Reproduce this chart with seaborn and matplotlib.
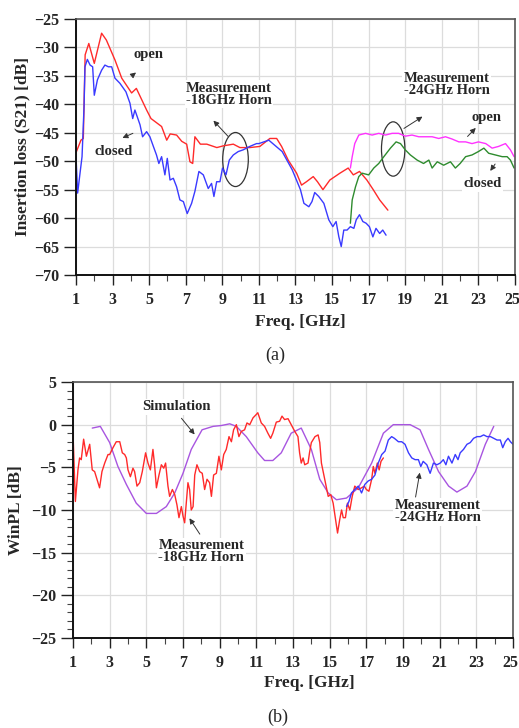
import matplotlib
matplotlib.use("Agg")
import matplotlib.pyplot as plt
import matplotlib.transforms as mtransforms
import seaborn as sns
import pandas as pd
from matplotlib.patches import Ellipse

# ---------------- data: (a) insertion loss ----------------
open18_x = [1.0, 1.27, 1.4, 1.5, 1.7, 2.0, 2.4, 2.66, 3.13, 3.5, 4.04, 4.3, 4.86, 5.1, 5.68, 5.96,
            6.15, 6.5, 6.78, 7.05, 7.23, 7.38, 7.5, 7.8, 8.15, 8.7, 9.05, 9.6, 9.96, 10.5, 11.05,
            11.6, 11.97, 12.24, 12.6, 13.06, 13.33, 13.6, 13.97, 14.2, 14.5, 14.88, 15.43, 15.88,
            16.16, 16.5, 16.9, 17.25, 17.6, 18.05]
open18_y = [-48.5, -46.3, -46.0, -31.3, -29.3, -32.8, -27.5, -28.7, -32.2, -35.4, -38.0, -37.2, -41.0,
            -42.5, -43.9, -46.3, -45.2, -45.4, -46.5, -47.0, -50.1, -50.4, -45.7, -47.0, -47.0, -47.6,
            -47.3, -47.0, -47.6, -47.6, -47.4, -46.0, -46.0, -47.4, -49.8, -52.1, -54.2, -53.6, -52.7,
            -53.6, -55.0, -53.3, -52.1, -51.2, -52.4, -51.8, -53.3, -55.0, -56.8, -58.6]

closed18_x = [1.0, 1.09, 1.22, 1.33, 1.44, 1.49, 1.62, 1.77, 1.91, 2.0, 2.17, 2.4, 2.58, 2.77, 2.95,
              3.13, 3.4, 3.73, 3.95, 4.1, 4.22, 4.35, 4.5, 4.64, 4.86, 5.04, 5.23, 5.4, 5.53, 5.68,
              5.86, 5.99, 6.14, 6.32, 6.5, 6.68, 6.87, 7.08, 7.32, 7.5, 7.72, 7.96, 8.23, 8.41, 8.54,
              8.69, 8.87, 9.01, 9.2, 9.38, 9.6, 9.87, 10.14, 10.5, 10.87, 11.0, 11.54, 12.27, 12.82,
              13.09, 13.27, 13.46, 13.73, 13.9, 14.05, 14.27, 14.55, 14.82, 15.04, 15.22, 15.37, 15.5,
              15.64, 15.82, 16.0, 16.19, 16.32, 16.5, 16.68, 16.86, 17.04, 17.23, 17.4, 17.6, 17.77,
              17.95]
closed18_y = [-49.2, -55.6, -52.1, -49.2, -40.4, -33.4, -32.1, -33.1, -33.4, -38.4, -35.7, -34.0, -33.1,
              -33.4, -33.4, -35.4, -36.3, -37.8, -39.8, -42.5, -41.0, -42.2, -43.6, -45.7, -44.8, -45.7,
              -47.4, -48.9, -50.4, -49.2, -52.4, -49.5, -53.3, -53.0, -54.5, -56.8, -57.1, -59.2, -57.4,
              -55.3, -51.8, -52.4, -54.8, -53.9, -56.2, -53.6, -53.6, -51.2, -52.4, -49.8, -48.9, -48.3,
              -48.0, -47.4, -46.9, -46.9, -46.3, -48.3, -51.5, -53.6, -55.0, -57.4, -58.0, -57.1, -55.5,
              -56.2, -57.4, -60.3, -61.5, -60.6, -63.3, -65.0, -62.1, -62.1, -61.5, -61.8, -60.3, -59.4,
              -60.6, -60.9, -61.5, -63.3, -61.8, -62.7, -62.1, -63.0]

open24_x = [16.0, 16.1, 16.24, 16.46, 16.83, 17.19, 17.55, 17.92, 18.28, 18.64, 19.0, 19.37, 19.74,
            20.1, 20.47, 20.83, 21.2, 21.56, 21.93, 22.3, 22.65, 23.0, 23.4, 23.75, 24.1, 24.48, 24.75,
            24.95]
open24_y = [-51.2, -49.2, -46.9, -45.4, -45.1, -45.4, -45.1, -45.4, -45.1, -45.1, -45.6, -45.4, -45.7,
            -45.7, -45.7, -46.0, -45.7, -46.1, -46.6, -46.6, -46.9, -46.6, -46.9, -47.7, -47.4, -46.9,
            -48.0, -49.2]

closed24_x = [16.0, 16.1, 16.28, 16.46, 16.64, 17.0, 17.28, 17.55, 17.83, 18.19, 18.5, 18.74, 19.0,
              19.28, 19.65, 20.0, 20.29, 20.47, 20.75, 21.1, 21.47, 21.74, 22.0, 22.3, 22.65, 23.0,
              23.3, 23.56, 23.93, 24.3, 24.57, 24.75, 24.95]
closed24_y = [-60.9, -56.8, -54.5, -52.7, -52.1, -52.4, -51.2, -50.4, -49.2, -47.7, -46.6, -46.9, -48.0,
              -48.9, -49.8, -50.4, -49.8, -51.2, -50.1, -50.7, -50.1, -51.2, -50.4, -49.2, -48.9, -48.3,
              -47.7, -48.6, -48.9, -49.2, -49.2, -49.8, -51.2]

# ---------------- data: (b) WinPL ----------------
meas18_x = [1.0, 1.13, 1.27, 1.36, 1.45, 1.58, 1.73, 1.91, 2.05, 2.18, 2.31, 2.45, 2.58, 2.73, 2.91,
            3.0, 3.18, 3.36, 3.55, 3.69, 3.82, 3.91, 4.0, 4.13, 4.27, 4.36, 4.49, 4.64, 4.78, 4.96,
            5.09, 5.22, 5.36, 5.45, 5.55, 5.69, 5.82, 5.95, 6.05, 6.18, 6.27, 6.42, 6.55, 6.67, 6.78,
            6.91, 7.0, 7.09, 7.18, 7.27, 7.36, 7.45, 7.55, 7.64, 7.76, 7.91, 8.05, 8.18, 8.31, 8.45,
            8.55, 8.67, 8.82, 8.96, 9.09, 9.22, 9.36, 9.51, 9.64, 9.76, 9.91, 10.05, 10.18, 10.36,
            10.49, 10.64, 10.82, 11.0, 11.08, 11.27, 11.45, 11.63, 11.78, 11.9, 12.09, 12.27, 12.4,
            12.54, 12.73, 12.9, 13.1, 13.27, 13.36, 13.45, 13.55, 13.64, 13.82, 13.9, 14.0, 14.2,
            14.37, 14.46, 14.55, 14.73, 14.92, 15.06, 15.19, 15.32, 15.43, 15.55, 15.65, 15.74, 15.86,
            15.97, 16.1, 16.23, 16.37, 16.56, 16.74, 16.89, 17.0, 17.14, 17.29, 17.38, 17.47, 17.6,
            17.7, 17.8, 17.93]
meas18_y = [-1.0, -9.0, -5.3, -3.9, -4.1, -1.7, -3.7, -2.3, -5.3, -5.5, -6.4, -7.4, -5.5, -4.5, -3.5,
            -3.5, -2.7, -2.0, -2.0, -3.3, -3.5, -3.9, -5.3, -6.1, -5.1, -5.5, -7.2, -6.8, -5.5, -3.3,
            -4.5, -5.3, -2.9, -4.7, -7.4, -5.9, -4.7, -5.1, -4.5, -7.2, -8.4, -7.6, -8.2, -9.4, -10.9,
            -9.6, -10.7, -11.5, -9.2, -6.8, -7.6, -10.0, -9.6, -5.9, -4.7, -5.5, -5.7, -7.6, -6.4,
            -6.8, -8.4, -5.9, -5.7, -3.7, -5.3, -3.5, -2.9, -1.4, -2.0, -0.6, 0.0, -1.4, -0.8, -0.6,
            0.2, 0.0, 0.8, 1.2, 1.4, 0.2, -0.2, -1.0, -1.6, -1.0, 0.3, 0.4, 1.0, 0.6, 0.7, 0.0, -0.8,
            -1.4, -3.3, -4.5, -3.9, -4.7, -4.5, -3.3, -2.1, -1.4, -1.2, -2.1, -4.5, -6.4, -8.4, -8.2,
            -9.2, -11.1, -12.7, -11.1, -10.0, -10.9, -10.9, -9.2, -10.0, -8.4, -7.2, -7.6, -7.4, -7.2,
            -7.6, -7.8, -6.4, -4.9, -5.7, -4.5, -5.3, -4.3, -3.9]

meas24_x = [15.92, 16.05, 16.19, 16.37, 16.56, 16.74, 16.92, 17.1, 17.29, 17.47, 17.65, 17.84, 18.02,
            18.2, 18.38, 18.53, 18.75, 18.93, 19.11, 19.3, 19.48, 19.66, 19.84, 19.97, 20.1, 20.3,
            20.48, 20.66, 20.85, 21.03, 21.2, 21.34, 21.48, 21.67, 21.85, 22.0, 22.12, 22.3, 22.49,
            22.67, 22.85, 23.04, 23.22, 23.4, 23.58, 23.77, 23.95, 24.13, 24.31, 24.44, 24.58, 24.73,
            24.86, 25.0]
meas24_y = [-9.6, -9.0, -8.0, -7.6, -7.2, -8.0, -7.0, -6.6, -6.4, -5.9, -4.5, -3.5, -3.1, -1.8, -1.4,
            -1.6, -2.0, -2.0, -2.3, -3.3, -3.9, -4.1, -4.1, -4.9, -4.3, -4.7, -5.7, -4.5, -4.7, -4.5,
            -4.1, -4.7, -3.7, -4.5, -3.5, -4.1, -3.3, -2.9, -2.3, -2.1, -1.6, -1.4, -1.4, -1.2, -1.4,
            -1.4, -1.6, -1.8, -1.8, -2.7, -2.0, -1.6, -2.0, -2.3]

sim_x = [2.05, 2.49, 3.0, 3.45, 3.91, 4.45, 5.0, 5.55, 6.09, 6.55, 7.0, 7.45, 8.04, 8.64, 9.09, 9.55,
         9.91, 10.45, 11.08, 11.45, 11.9, 12.36, 12.9, 13.45, 14.0, 14.46, 14.92, 15.37, 15.92, 16.56,
         17.29, 17.93, 18.47, 19.39, 19.93, 20.39, 20.94, 21.49, 21.94, 22.49, 22.95, 23.49, 23.95]
sim_y = [-0.4, -0.2, -2.1, -4.9, -7.0, -9.2, -10.4, -10.4, -9.6, -8.0, -5.7, -2.9, -0.6, -0.2, -0.1,
         0.1, -0.2, -1.4, -3.3, -4.2, -4.2, -3.3, -1.0, -0.4, -2.9, -6.4, -8.0, -8.8, -8.6, -7.4, -4.5,
         -1.0, 0.0, 0.0, -0.6, -2.9, -5.5, -7.2, -7.9, -7.2, -5.5, -2.3, -0.2]

x_ticks = [1, 3, 5, 7, 9, 11, 13, 15, 17, 19, 21, 23, 25]
ya_ticks = [-25, -30, -35, -40, -45, -50, -55, -60, -65, -70]
yb_ticks = [5, 0, -5, -10, -15, -20, -25]

# ---------------- style ----------------
sns.set_theme(style="white")
plt.rcParams['font.family'] = ['Liberation Serif', 'DejaVu Serif']
plt.rcParams['font.weight'] = 'bold'

RED = '#ff2a2a'
BLUE = '#3a3aff'
MAG = '#ff33ff'
GREEN = '#2e8b2e'
PURP = '#a855e0'

fig = plt.figure(figsize=(5.19, 7.28), dpi=100)
axA = fig.add_axes([76 / 519, 1 - 275 / 728, 439 / 519, 256 / 728])
axB = fig.add_axes([73 / 519, 1 - 638 / 728, 440 / 519, 256 / 728])


def style_axes(ax, yticks, ylim, yminor):
    ax.set_xlim(1, 25)
    ax.set_ylim(*ylim)
    ax.set_xticks(x_ticks)
    ax.set_xticks(range(1, 26), minor=True)
    ax.set_yticks(yticks)
    if yminor:
        ax.set_yticks(range(ylim[0], ylim[1] + 1), minor=True)
    ax.grid(True, which='major', color='#dcdcdc', linewidth=0.9)
    ax.set_axisbelow(True)
    for s in ['left', 'bottom']:
        ax.spines[s].set_color('#111111')
        ax.spines[s].set_linewidth(1.4)
    for s in ['top', 'right']:
        ax.spines[s].set_color('#555555')
        ax.spines[s].set_linewidth(1.2)
    ax.tick_params(axis='both', which='major', direction='out', length=9, width=1.0,
                   color='#222222', labelsize=11.5, pad=3,
                   bottom=True, left=True, top=False, right=False)
    ax.tick_params(axis='both', which='minor', direction='out', length=4.5, width=0.8,
                   color='#444444', bottom=True, left=yminor, top=False, right=False)
    ax.tick_params(axis='x', which='major', length=7, pad=5)
    for lab in ax.get_xticklabels() + ax.get_yticklabels():
        lab.set_fontweight('bold')
    # keep the last x label inside the canvas
    last = ax.get_xticklabels()[-1]
    last.set_transform(last.get_transform() +
                       mtransforms.ScaledTranslation(-3 / 100, 0, fig.dpi_scale_trans))
    ax.set_xlabel('')
    ax.set_ylabel('')


# ---------------- (a) ----------------
for xs, ys, c in [(open18_x, open18_y, RED), (closed18_x, closed18_y, BLUE),
                  (open24_x, open24_y, MAG), (closed24_x, closed24_y, GREEN)]:
    sns.lineplot(x=xs, y=ys, ax=axA, color=c, linewidth=1.0, sort=False, estimator=None)
style_axes(axA, ya_ticks, (-70, -25), False)
axA.set_ylabel('Insertion loss (S21) [dB]', fontsize=12.5, fontweight='bold', labelpad=3)

ann = dict(fontsize=10.5, fontweight='bold', ha='center', va='center')
arr = dict(arrowstyle='-|>', color='#333333', lw=0.7, mutation_scale=8)
bb = dict(boxstyle='square,pad=0.1', fc='white', ec='none')

axA.annotate('open', xy=(4.4, -34.1), xytext=(4.95, -31.3), **ann)
axA.annotate('', xy=(4.4, -34.1), xytext=(4.05, -35.0), arrowprops=arr)
axA.annotate('closed', xy=(3.4, -46.1), xytext=(3.08, -48.3), **ann)
axA.annotate('', xy=(3.4, -46.1), xytext=(4.25, -44.9), arrowprops=arr)
axA.text(9.36, -38.2, 'Measurement\n-18GHz Horn', linespacing=0.9, bbox=bb, **ann)
axA.annotate('', xy=(8.41, -42.5), xytext=(9.42, -46.0), arrowprops=arr)
axA.add_patch(Ellipse((9.72, -49.7), 1.40, 9.5, fill=False, ec='#333333', lw=0.9))
axA.text(21.26, -36.5, 'Measurement\n-24GHz Horn', linespacing=0.9, bbox=bb, **ann)
axA.annotate('', xy=(20.07, -41.9), xytext=(18.8, -44.5), arrowprops=arr)
axA.add_patch(Ellipse((18.34, -47.85), 1.28, 9.55, fill=False, ec='#333333', lw=0.9))
axA.annotate('open', xy=(22.96, -43.8), xytext=(23.44, -42.3), **ann)
axA.annotate('', xy=(22.96, -43.8), xytext=(22.3, -46.0), arrowprops=arr)
axA.text(23.22, -54.0, 'closed', bbox=bb, **ann)
axA.annotate('', xy=(23.56, -52.1), xytext=(24.0, -50.1), arrowprops=arr)

fig.text(300 / 519, 1 - 322 / 728, 'Freq. [GHz]', fontsize=12.5, fontweight='bold',
         ha='center', va='center')
fig.text(275 / 519, 1 - 355 / 728, '(a)', fontsize=13, fontweight='normal',
         ha='center', va='center')

# ---------------- (b) ----------------
for xs, ys, c in [(sim_x, sim_y, PURP), (meas18_x, meas18_y, RED), (meas24_x, meas24_y, BLUE)]:
    sns.lineplot(x=xs, y=ys, ax=axB, color=c, linewidth=1.0, sort=False, estimator=None)
style_axes(axB, yb_ticks, (-25, 5), True)
axB.set_ylabel('WinPL [dB]', fontsize=12.5, fontweight='bold', labelpad=5)

axB.text(6.66, 2.1, 'Simulation', bbox=bb, **ann)
axB.annotate('', xy=(7.73, -1.4), xytext=(6.82, 1.0), arrowprops=arr)
axB.text(8.0, -14.9, 'Measurement\n-18GHz Horn', linespacing=0.9, bbox=bb, **ann)
axB.annotate('', xy=(7.27, -10.7), xytext=(8.0, -13.1), arrowprops=arr)
axB.text(20.9, -10.2, 'Measurement\n-24GHz Horn', linespacing=0.9, bbox=bb, **ann)
axB.annotate('', xy=(19.94, -5.3), xytext=(19.66, -8.8), arrowprops=arr)

fig.text(309 / 519, 1 - 683 / 728, 'Freq. [GHz]', fontsize=12.5, fontweight='bold',
         ha='center', va='center')
fig.text(278 / 519, 1 - 717 / 728, '(b)', fontsize=13, fontweight='normal',
         ha='center', va='center')

fig.savefig('out.png', dpi=100, facecolor='white')
